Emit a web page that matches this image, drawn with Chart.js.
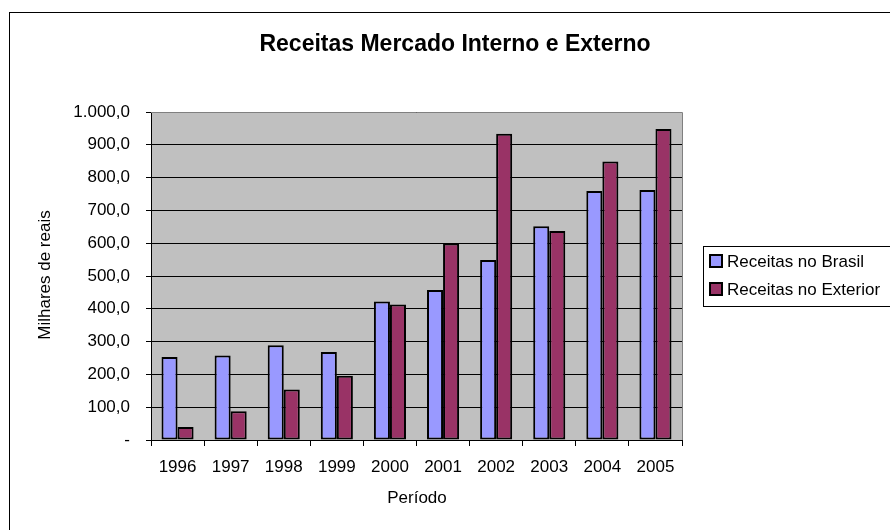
<!DOCTYPE html>
<html>
<head>
<meta charset="utf-8">
<script src="https://cdn.jsdelivr.net/npm/chart.js@4/dist/chart.umd.min.js"></script>
<style>
  html, body { margin: 0; padding: 0; background: #fff; }
  canvas { display: block; }
</style>
</head>
<body>
<canvas id="grafico" width="890" height="530"></canvas>
<script>
const periodos = ['1996', '1997', '1998', '1999', '2000', '2001', '2002', '2003', '2004', '2005'];
const receitasBrasil = [253, 258, 289, 268, 422, 457, 549, 652, 759, 762];
const receitasExterior = [40, 88, 154, 196, 413, 599, 934, 637, 849, 948];
const nomesSeries = ['Receitas no Brasil', 'Receitas no Exterior'];
const coresSeries = ['#9999FF', '#993366'];
const titulo = 'Receitas Mercado Interno e Externo';
const tituloEixoX = 'Período';
const tituloEixoY = 'Milhares de reais';

const fonte = '"Liberation Sans", Arial, sans-serif';

function formatarValor(v) {
    if (v === 0) return '-';
    const partes = v.toFixed(1).split('.');
    const inteiro = partes[0].replace(/\B(?=(\d{3})+(?!\d))/g, '.');
    return inteiro + ',' + partes[1];
}

// fundo cinza da area do grafico e moldura externa
const fundoPlot = {
    id: 'fundoPlot',
    beforeDraw(chart) {
        const ctx = chart.ctx;
        const a = chart.chartArea;
        ctx.save();
        ctx.fillStyle = '#fff';
        ctx.fillRect(0, 0, chart.width, chart.height);
        ctx.strokeStyle = '#000';
        ctx.lineWidth = 1;
        ctx.strokeRect(9.5, 12.5, 1000, 1000);
        ctx.fillStyle = '#C0C0C0';
        ctx.fillRect(a.left, a.top, a.right - a.left, a.bottom - a.top);
        ctx.restore();
    },
    beforeDatasetsDraw(chart) {
        const ctx = chart.ctx;
        const a = chart.chartArea;
        ctx.save();
        ctx.strokeStyle = '#808080';
        ctx.lineWidth = 1;
        ctx.beginPath();
        ctx.moveTo(a.left, a.top + 0.5);
        ctx.lineTo(a.right + 0.5, a.top + 0.5);
        ctx.lineTo(a.right + 0.5, a.bottom);
        ctx.stroke();
        ctx.restore();
    }
};

// titulo, titulos dos eixos e legenda
const textos = {
    id: 'textos',
    afterDraw(chart) {
        const ctx = chart.ctx;
        ctx.save();
        ctx.fillStyle = '#000';
        ctx.textAlign = 'center';
        ctx.textBaseline = 'middle';

        ctx.font = 'bold 23px ' + fonte;
        ctx.fillText(titulo, 455, 45);

        ctx.font = '17px ' + fonte;
        ctx.fillText(tituloEixoX, 417, 498);

        ctx.save();
        ctx.translate(45, 275);
        ctx.rotate(-Math.PI / 2);
        ctx.fillText(tituloEixoY, 0, 0);
        ctx.restore();

        // legenda
        ctx.strokeStyle = '#000';
        ctx.lineWidth = 1;
        ctx.strokeRect(703.5, 246.5, 300, 60);
        ctx.textAlign = 'left';
        chart.data.datasets.forEach((ds, i) => {
            const y = 261 + i * 28;
            ctx.fillStyle = ds.backgroundColor;
            ctx.fillRect(710, y - 6, 12, 12);
            ctx.lineWidth = 2;
            ctx.strokeRect(710, y - 6, 12, 12);
            ctx.fillStyle = '#000';
            ctx.fillText(ds.label, 727, y + 1);
        });
        ctx.restore();
    }
};

new Chart(document.getElementById('grafico'), {
    type: 'bar',
    data: {
        labels: periodos,
        datasets: [{
            label: nomesSeries[0],
            data: receitasBrasil,
            backgroundColor: coresSeries[0],
            borderColor: '#000',
            borderWidth: 2,
            borderSkipped: false
        }, {
            label: nomesSeries[1],
            data: receitasExterior,
            backgroundColor: coresSeries[1],
            borderColor: '#000',
            borderWidth: 2,
            borderSkipped: false
        }]
    },
    options: {
        responsive: false,
        devicePixelRatio: 1,
        animation: false,
        layout: { padding: { top: 112, right: 208, bottom: 0, left: 0 } },
        datasets: { bar: { categoryPercentage: 0.604, barPercentage: 1 } },
        plugins: {
            legend: { display: false },
            title: { display: false },
            tooltip: { enabled: false }
        },
        scales: {
            x: {
                afterFit(s) { s.height = 90; },
                grid: {
                    offset: true,
                    drawOnChartArea: false,
                    drawTicks: true,
                    tickLength: 6,
                    color: '#000'
                },
                border: { display: true, color: '#000', width: 1 },
                ticks: {
                    color: '#000',
                    padding: 11,
                    maxRotation: 0,
                    font: { family: fonte, size: 17 }
                }
            },
            y: {
                min: 0,
                max: 1000,
                afterFit(s) { s.width = 151; },
                grid: {
                    color: '#000',
                    lineWidth: 1,
                    tickLength: 5
                },
                border: { display: true, color: '#000', width: 1 },
                ticks: {
                    stepSize: 100,
                    color: '#000',
                    padding: 16,
                    font: { family: fonte, size: 17 },
                    callback: (v) => formatarValor(v)
                }
            }
        }
    },
    plugins: [fundoPlot, textos]
});
</script>
</body>
</html>
